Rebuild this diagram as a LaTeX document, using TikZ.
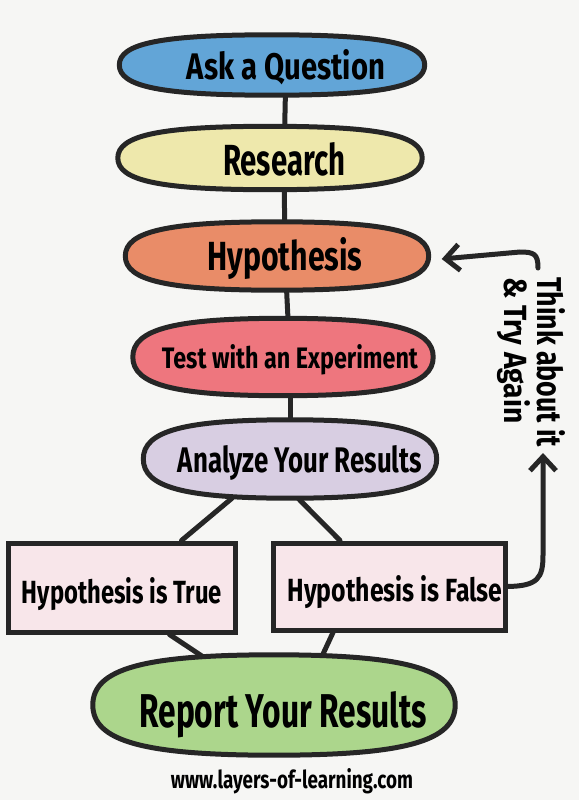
\documentclass[tikz,border=0pt]{standalone}
\usepackage{fontspec}
\setmainfont{Fira Sans}
\usepackage{graphicx}
\usetikzlibrary{calc,arrows.meta,backgrounds}
\pgfdeclarelayer{paper}
\pgfsetlayers{paper,background,main}
\definecolor{ink}{RGB}{38,38,38}
\definecolor{paperc}{RGB}{246,246,244}
\definecolor{askblue}{RGB}{98,165,215}
\definecolor{resyellow}{RGB}{238,232,172}
\definecolor{hyporange}{RGB}{233,140,104}
\definecolor{testred}{RGB}{238,118,126}
\definecolor{analav}{RGB}{216,206,226}
\definecolor{cardpink}{RGB}{248,230,234}
\definecolor{repgreen}{RGB}{172,214,140}
\newcommand\fitbox[3]{\resizebox{#1pt}{#2pt}{\bfseries #3}}
% superellipse outline drawn on a node's bounding box
\newcommand\blob[2]{%
  \path[draw=ink, line width=5pt, fill=#2]
    (#1.west) .. controls ($(#1.west)!0.72!(#1.north west)$) and ($(#1.north)!0.72!(#1.north west)$) .. (#1.north)
    .. controls ($(#1.north)!0.72!(#1.north east)$) and ($(#1.east)!0.72!(#1.north east)$) .. (#1.east)
    .. controls ($(#1.east)!0.72!(#1.south east)$) and ($(#1.south)!0.72!(#1.south east)$) .. (#1.south)
    .. controls ($(#1.south)!0.72!(#1.south west)$) and ($(#1.west)!0.72!(#1.south west)$) .. (#1.west) -- cycle;}
\begin{document}
\begin{tikzpicture}[x=1pt,y=-1pt,
  stage/.style={rectangle, inner sep=0pt},
  card/.style={rectangle, draw=ink, line width=5pt, fill=cardpink, inner sep=0pt},
  txt/.style={anchor=base, inner sep=0pt, text=black},
  link/.style={draw=ink, line width=5pt, line cap=round},
  back/.style={link, -{Straight Barb[length=14pt,width=26pt]}}]
\begin{pgfonlayer}{paper}
  \fill[paperc] (0,0) rectangle (579,800);
\end{pgfonlayer}
\useasboundingbox (0,0) rectangle (579,800);

% shapes
\node[stage, minimum width=305pt, minimum height=60pt] (ask) at (272,65) {};
\blob{ask}{askblue}
\node[stage, minimum width=304pt, minimum height=63pt] (res) at (270,158) {};
\blob{res}{resyellow}
\node[stage, minimum width=303pt, minimum height=68pt] (hyp) at (277,256) {};
\blob{hyp}{hyporange}
\node[stage, minimum width=300pt, minimum height=77pt] (test) at (283,357) {};
\blob{test}{testred}
\node[stage, minimum width=293pt, minimum height=78pt] (ana) at (290,459) {};
\blob{ana}{analav}
\node[card, minimum width=227pt, minimum height=89pt] (true) at (121.5,587.5) {};
\node[card, minimum width=232pt, minimum height=87pt] (false) at (389,586.5) {};
\node[stage, minimum width=362pt, minimum height=100pt] (rep) at (274,705) {};
\blob{rep}{repgreen}

% texts
\node[txt] (askt) at (286,79) {\fitbox{198}{30}{Ask a Question}};
\node[txt] (rest) at (284,175) {\fitbox{122}{33}{Research}};
\node[txt] (hypt) at (285,270) {\fitbox{155}{33}{Hypothesis}};
\node[txt] (testt) at (290,368) {\fitbox{256}{24}{Test with an Experiment}};
\node[txt] (anat) at (300,472) {\fitbox{244}{27}{Analyze Your Results}};
\node[txt] (truet) at (122,603) {\fitbox{200}{26}{Hypothesis is True}};
\node[txt] (falset) at (395,601) {\fitbox{215}{26}{Hypothesis is False}};
\node[txt] (rept) at (283,727) {\fitbox{287}{36}{Report Your Results}};
\node[txt] (url) at (292,788) {\fitbox{242}{20}{www.layers-of-learning.com}};
\node[txt, anchor=base west, rotate=-90] (think) at (537,277) {\fitbox{170}{28}{Think about it}};
\node[txt, anchor=base west, rotate=-90] (again) at (504,277) {\fitbox{146}{26}{\& Try Again}};

% connectors
\begin{scope}[on background layer]
  \draw[link] (askt.center) -- (rest.center);
  \draw[link] (rest.center) -- (hypt.center);
  \draw[link] (hypt.center) -- (testt.center);
  \draw[link] (testt.center) -- (ana.center -| testt.center);
  \draw[link] ([xshift=-58pt]ana.south) -- ([xshift=60pt]true.north);
  \draw[link] ([xshift=8pt]ana.south) -- ([xshift=-49pt]false.north);
  \draw[link] ([xshift=48pt]true.south) -- ([xshift=-59pt,yshift=-10pt]rep.north);
  \draw[link] ([xshift=-56pt]false.south) -- ([xshift=44pt,yshift=-10pt]rep.north);
\end{scope}
\coordinate (upend) at (543,453);
\coordinate (hookst) at (538,268);
\draw[back] (false.east) .. controls (538,586) and (543,578) .. (543,555) -- (upend);
\draw[back] (hookst) .. controls (538,254) and (534,252) .. (520,252) -- ([xshift=13pt,yshift=-3pt]hyp.east);
\end{tikzpicture}
\end{document}
